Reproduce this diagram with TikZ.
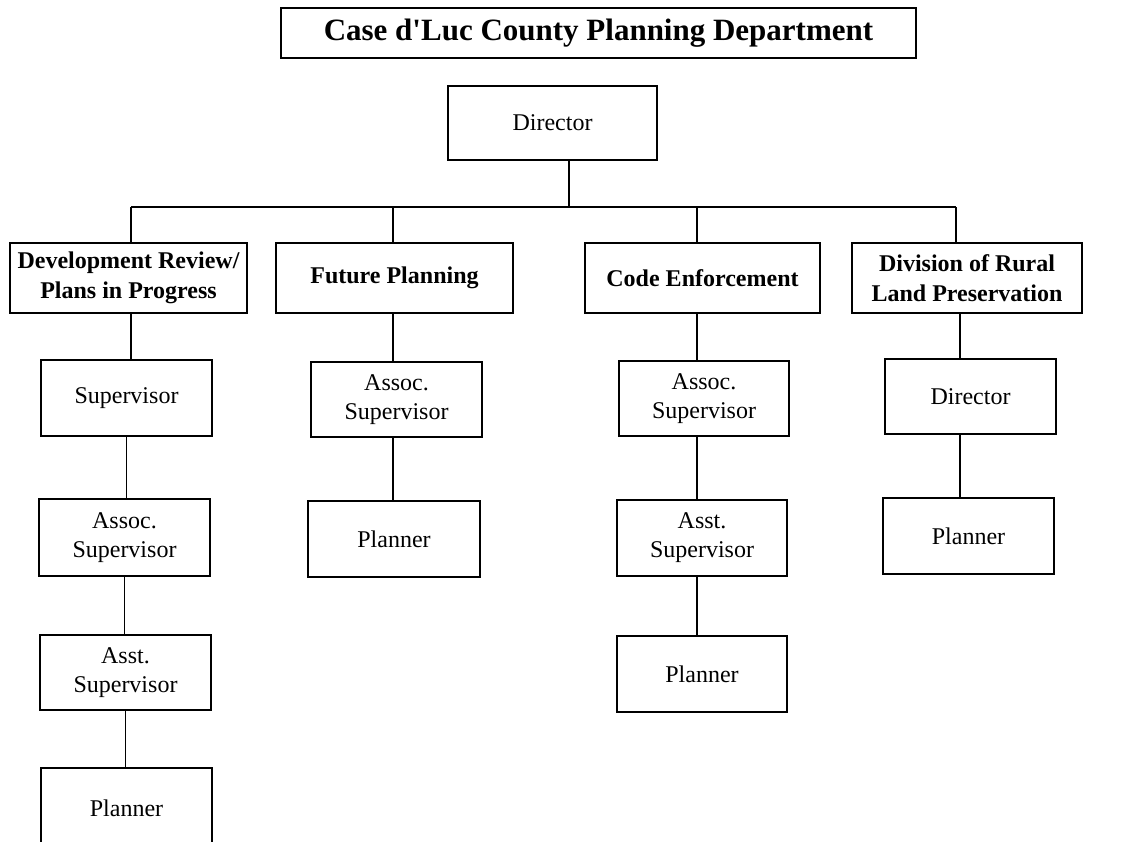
\documentclass[tikz,border=0pt]{standalone}
\usepackage{fontspec}
\setmainfont{Liberation Serif}
\begin{document}
\begin{tikzpicture}[x=0.5pt,y=-0.5pt,
  sz/.style 2 args={minimum width=#1*0.5pt, minimum height=#2*0.5pt},
  box/.style={draw, line width=0.9pt, rectangle, inner sep=0pt, align=center,
              font=\fontsize{12}{14.5}\selectfont},
  head/.style={box, font=\fontsize{12}{15}\selectfont\bfseries},
  titlebox/.style={draw, line width=1.2pt, rectangle, inner sep=0pt,
              font=\fontsize{15.5}{18}\selectfont\bfseries},
  link/.style={line width=0.7pt}]
\useasboundingbox (0,0) rectangle (1122,841);
\clip (0,0) rectangle (1122,841);

% title
\node[titlebox, sz={635}{50}] (title) at (598.5,33) {Case d\textquotesingle Luc County Planning Department};

% top director
\node[box, sz={209}{74}] (dir) at (552.5,123) {Director};

% bus
\coordinate (dtop) at (569,207);
\coordinate (b1) at (131,207);
\coordinate (b2) at (393,207);
\coordinate (b3) at (697,207);
\coordinate (b4) at (956,207);
\draw[link] (b1) -- (b4);
\draw[link] (dir.south -| dtop) -- (dtop);

% level 1
\node[head, sz={237}{70}] (dev)  at (128.5,278) {Development Review/\\Plans in Progress};
\node[head, sz={237}{70}] (fut)  at (394.5,278) {Future Planning};
\node[head, sz={235}{70}] (code) at (702.5,278) {Code Enforcement};
\node[head, sz={230}{70}] (div)  at (967,278)   {Division of Rural\\Land Preservation};
\draw[link] (b1) -- (b1 |- dev.north);
\draw[link] (b2) -- (b2 |- fut.north);
\draw[link] (b3) -- (b3 |- code.north);
\draw[link] (b4) -- (b4 |- div.north);

% level 2
\node[box, sz={171}{76}] (devsup)    at (126.5,398)   {Supervisor};
\node[box, sz={171}{75}] (futassoc)  at (396.5,399.5) {Assoc.\\Supervisor};
\node[box, sz={170}{75}] (codeassoc) at (704,398.5)   {Assoc.\\Supervisor};
\node[box, sz={171}{75}] (divdir)    at (970.5,396.5) {Director};

% level 3
\node[box, sz={171}{77}] (devassoc) at (124.5,537.5) {Assoc.\\Supervisor};
\node[box, sz={172}{76}] (futplan)  at (394,539)     {Planner};
\node[box, sz={170}{76}] (codeasst) at (702,538)     {Asst.\\Supervisor};
\node[box, sz={171}{76}] (divplan)  at (968.5,536)   {Planner};

% level 4
\node[box, sz={171}{75}] (devasst)  at (125.5,672.5) {Asst.\\Supervisor};
\node[box, sz={170}{76}] (codeplan) at (702,674)     {Planner};

% level 5
\node[box, sz={171}{80}] (devplan)  at (126.5,808)   {Planner};

% column connectors
\draw[link] (b1 |- dev.south) -- (b1 |- devsup.north);
\draw[link] (devsup.south) -- (devsup.south |- devassoc.north);
\draw[link] (devassoc.south) -- (devassoc.south |- devasst.north);
\draw[link] (devasst.south) -- (devasst.south |- devplan.north);

\draw[link] (b2 |- fut.south) -- (b2 |- futassoc.north);
\draw[link] (b2 |- futassoc.south) -- (b2 |- futplan.north);

\draw[link] (b3 |- code.south) -- (b3 |- codeassoc.north);
\draw[link] (b3 |- codeassoc.south) -- (b3 |- codeasst.north);
\draw[link] (b3 |- codeasst.south) -- (b3 |- codeplan.north);

\draw[link] ([xshift=2pt]b4 |- div.south) -- ([xshift=2pt]b4 |- divdir.north);
\draw[link] ([xshift=2pt]b4 |- divdir.south) -- ([xshift=2pt]b4 |- divplan.north);
\end{tikzpicture}
\end{document}
